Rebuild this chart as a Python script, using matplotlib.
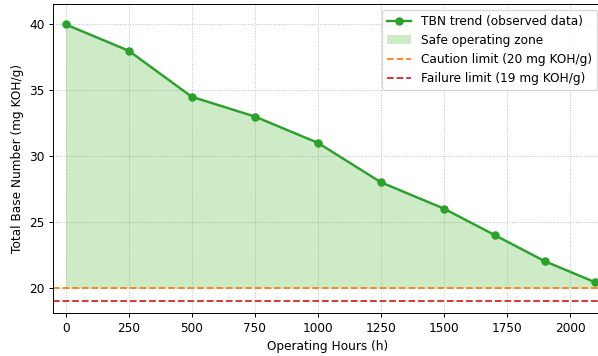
import matplotlib
matplotlib.use("Agg")
import matplotlib.pyplot as plt

hours = [0, 250, 500, 750, 1000, 1250, 1500, 1700, 1900, 2100]
tbn = [40, 38, 34.5, 33, 31, 28, 26, 24, 22, 20.4]
caution_limit = 20
failure_limit = 19

DPI = 87
fig = plt.figure(figsize=(598/DPI, 356/DPI), dpi=DPI)
ax = fig.add_axes([53/598, (356-313.3)/356, (603-53)/598, (313.3-4)/356])

ax.fill_between(hours, tbn, caution_limit, color='#cdebc6', linewidth=0,
                label='Safe operating zone')
ax.plot(hours, tbn, '-o', color='#2ca02c', linewidth=2, markersize=6,
        label='TBN trend (observed data)')
ax.axhline(caution_limit, color='#ff7f0e', linestyle='--', linewidth=1.5,
           label='Caution limit (20 mg KOH/g)')
ax.axhline(failure_limit, color='#d62728', linestyle='--', linewidth=1.5,
           label='Failure limit (19 mg KOH/g)')

ax.set_xlim(-50, 2130)
ax.set_ylim(18.05, 41.55)
ax.set_xticks([0, 250, 500, 750, 1000, 1250, 1500, 1750, 2000])
ax.set_yticks([20, 25, 30, 35, 40])
ax.grid(True, linestyle=':', color='gray', alpha=0.5)
ax.set_xlabel('Operating Hours (h)')
ax.set_ylabel('Total Base Number (mg KOH/g)')

h, l = ax.get_legend_handles_labels()
order = [1, 0, 2, 3]
ax.legend([h[i] for i in order], [l[i] for i in order], loc='upper right')

fig.savefig('out.png', dpi=DPI)
